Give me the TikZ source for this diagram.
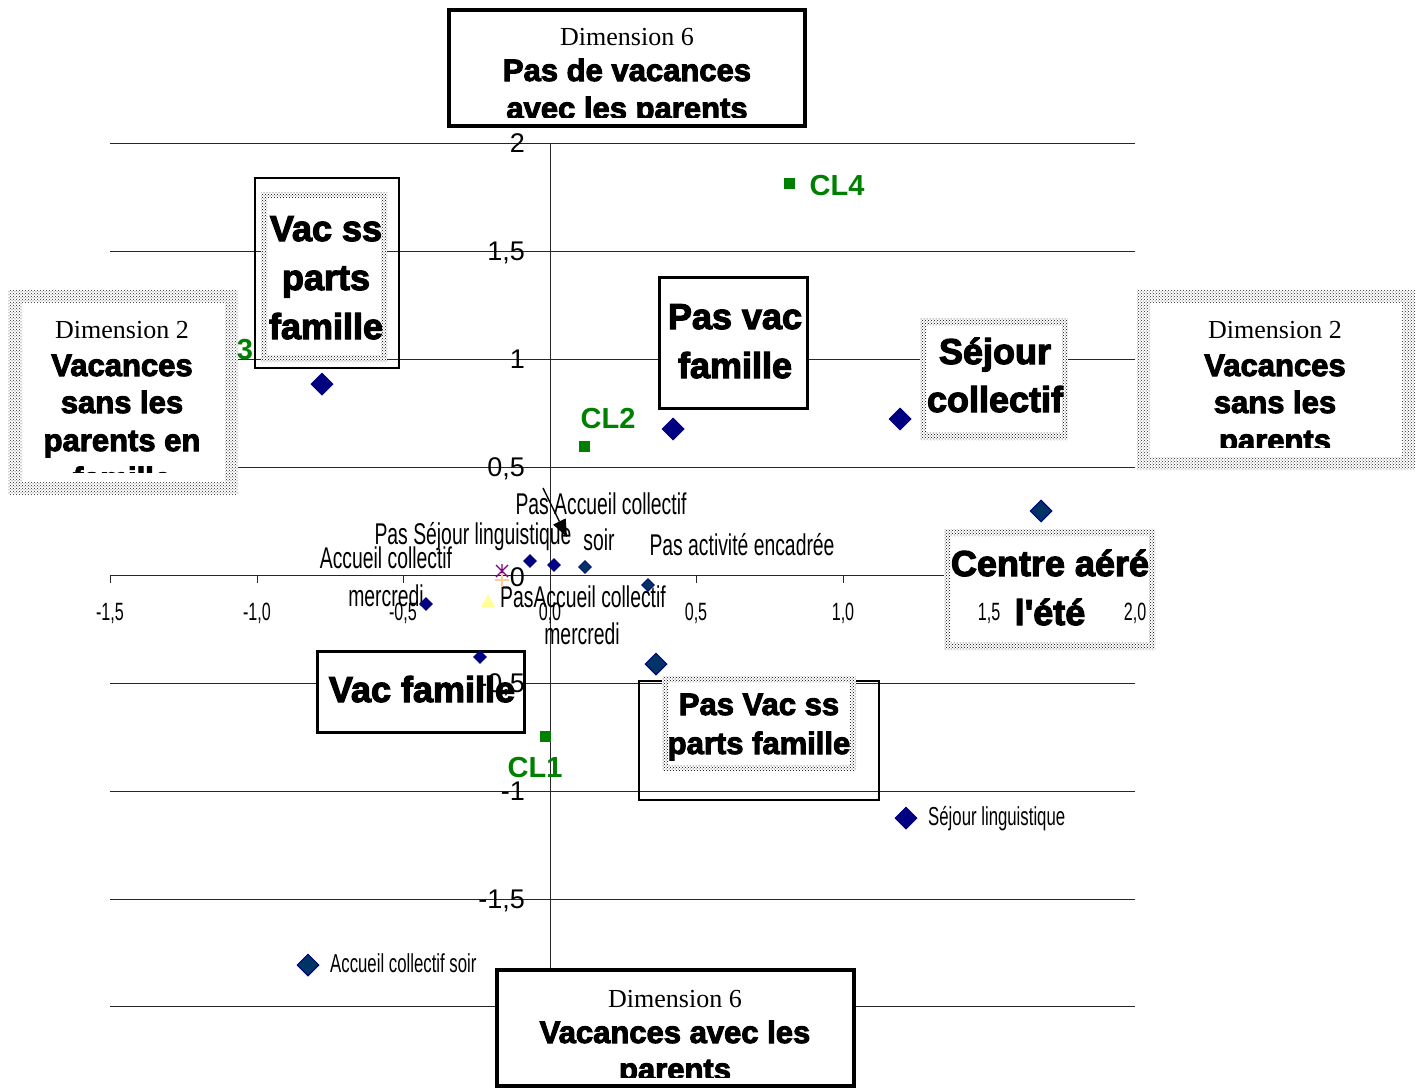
\documentclass[tikz,border=0pt]{standalone}
\usepackage{fontspec}
\usepackage{graphicx}
\usetikzlibrary{shapes.geometric,patterns,arrows.meta}
\setmainfont{Liberation Serif}
\newfontfamily\heavyfont[BoldFeatures={FakeBold=3.2}]{Liberation Sans}
\newfontfamily\sansfont{Liberation Sans}
\newfontfamily\condfont[FakeStretch=0.645]{Liberation Sans}
\definecolor{navyd}{RGB}{0,0,128}
\definecolor{navyt}{RGB}{0,51,102}
\definecolor{grn}{RGB}{0,128,0}
\definecolor{purp}{RGB}{128,0,128}
\definecolor{orng}{RGB}{255,204,153}
\definecolor{yelw}{RGB}{255,255,153}
\tikzset{
  gridl/.style={draw=black!85, line width=0.9pt},
  thickbox/.style={draw=black, line width=3.5pt, fill=white},
  thinbox/.style={draw=black, line width=1.8pt},
  dotband/.style={even odd rule, pattern=crosshatch dots, pattern color=black},
  lightband/.style={even odd rule, pattern=crosshatch dots, pattern color=black!85},
  dimser/.style={anchor=base, inner sep=0pt, font=\fontsize{26}{30}\selectfont},
  dimbold/.style={anchor=base, inner sep=0pt, font=\heavyfont\bfseries\fontsize{31}{34}\selectfont},
  bigbold/.style={anchor=base, inner sep=0pt, font=\heavyfont\bfseries\fontsize{36}{40}\selectfont},
  midbold/.style={anchor=base, inner sep=0pt, font=\heavyfont\bfseries\fontsize{31}{34}\selectfont},
  ylab/.style={anchor=base east, inner sep=0pt, font=\sansfont\fontsize{27}{30}\selectfont},
  xlab/.style={anchor=base, inner sep=0pt, font=\condfont\fontsize{25}{28}\selectfont},
  clab/.style={anchor=base, inner sep=0pt, font=\condfont\fontsize{30}{34}\selectfont},
  leglab/.style={anchor=base west, inner sep=0pt, font=\condfont\fontsize{26}{30}\selectfont},
  cllab/.style={anchor=base, inner sep=0pt, text=grn, font=\sansfont\bfseries\fontsize{29}{32}\selectfont},
  bigd/.style={diamond, draw=navyd, line width=1pt, fill=navyd, minimum width=22pt, minimum height=22pt, inner sep=0pt},
  bigdt/.style={bigd, fill=navyt},
  smalld/.style={diamond, draw=navyd, line width=0.8pt, fill=navyd, minimum width=13pt, minimum height=13pt, inner sep=0pt},
  smalldt/.style={smalld, fill=navyt},
  grsq/.style={rectangle, fill=grn, minimum width=11pt, minimum height=11pt, inner sep=0pt},
}
\begin{document}
\begin{tikzpicture}[x=1pt,y=-1pt]
\useasboundingbox (0,0) rectangle (1425,1090);
\fill[white] (0,0) rectangle (1425,1090);

% grid and axes
\foreach \g in {143,251,359,467,575,683,791,899,1006}
  \draw[gridl] (110,\g) -- (1135,\g);
\draw[gridl] (550,143) -- (550,1006);
\foreach \t in {110,257,403,550,696,843,989,1135}
  \draw[gridl] (\t,575) -- (\t,583);
\foreach \g in {143,251,359,467,575,683,791,899,1006}
  \draw[gridl] (541,\g) -- (550,\g);

% left Dimension 2 box
\fill[white] (8,290) rectangle (238,495);
\fill[lightband] (8,290) rectangle (238,495) (22,303) rectangle (225,482);
\begin{scope}
\clip (22,303) rectangle (225,472);
\node[dimser] (l2a) at (122,338) {Dimension 2};
\node[dimbold] (l2b) at (122,376) {Vacances};
\node[dimbold] (l2c) at (122,413) {sans les};
\node[dimbold] (l2d) at (122,451) {parents en};
\node[dimbold] (l2e) at (122,489) {famille};
\end{scope}

% right Dimension 2 box
\fill[white] (1137,290) rectangle (1415,470);
\fill[lightband] (1137,290) rectangle (1415,470) (1150,303) rectangle (1402,457);
\begin{scope}
\clip (1150,303) rectangle (1402,447);
\node[dimser] (r2a) at (1275,338) {Dimension 2};
\node[dimbold] (r2b) at (1275,376) {Vacances};
\node[dimbold] (r2c) at (1275,413) {sans les};
\node[dimbold] (r2d) at (1275,451) {parents};
\end{scope}

% top Dimension 6 box
\draw[thickbox] (449,10) rectangle (805,126);
\begin{scope}
\clip (452,13) rectangle (802,117);
\node[dimser] (t6a) at (627,45) {Dimension 6};
\node[dimbold] (t6b) at (627,81) {Pas de vacances};
\node[dimbold] (t6c) at (627,119) {avec les parents};
\end{scope}

% bottom Dimension 6 box
\draw[thickbox] (497,970) rectangle (854,1086);
\begin{scope}
\clip (500,973) rectangle (851,1077);
\node[dimser] (b6a) at (675,1007) {Dimension 6};
\node[dimbold] (b6b) at (675,1043) {Vacances avec les};
\node[dimbold] (b6c) at (675,1080) {parents};
\end{scope}

% Vac ss parts famille
\draw[thinbox] (255,178) rectangle (399,368);
\fill[white] (261,192) rectangle (387,362);
\fill[dotband] (261,192) rectangle (387,362) (267,198) rectangle (381,355);
\node[bigbold] (vs1) at (326,241) {Vac ss};
\node[bigbold] (vs2) at (326,290) {parts};
\node[bigbold] (vs3) at (326,339) {famille};

% Pas vac famille
\draw[thickbox] (659.5,277.5) rectangle (807.5,408.5);
\node[bigbold] (pv1) at (735,329) {Pas vac};
\node[bigbold] (pv2) at (735,378) {famille};

% Sejour collectif
\fill[white] (920,318) rectangle (1068,440);
\fill[dotband] (920,318) rectangle (1068,440) (926,325) rectangle (1062,432);
\node[bigbold] (sc1) at (995,364) {Séjour};
\node[bigbold] (sc2) at (995,412) {collectif};

% Centre aere
\fill[white] (944,529) rectangle (1155,650);
\fill[dotband] (944,529) rectangle (1155,650) (950,536) rectangle (1149,642);
\node[bigbold] (ca1) at (1050,576) {Centre aéré};
\node[bigbold] (ca2) at (1050,625) {l'été};

% Vac famille
\draw[thickbox] (317.5,651.5) rectangle (524.5,732.5);
\node[bigbold] (vf1) at (422,702) {Vac famille};

% Pas Vac ss parts famille
\draw[thinbox] (639,681) rectangle (879,800);
\fill[white] (662,676) rectangle (856,771);
\fill[dotband] (662,676) rectangle (856,771) (668,682) rectangle (850,765);
\node[midbold] (ps1) at (759,715) {Pas Vac ss};
\node[midbold] (ps2) at (759,754) {parts famille};

% axis labels
\node[ylab] (y1) at (525,152) {2};
\node[ylab] (y2) at (525,260) {1,5};
\node[ylab] (y3) at (525,368) {1};
\node[ylab] (y4) at (525,476) {0,5};
\node[ylab] (y6) at (525,692) {-0,5};
\node[ylab] (y7) at (525,800) {-1};
\node[ylab] (y8) at (525,908) {-1,5};
\node[xlab] (x1) at (110,620) {-1,5};
\node[xlab] (x2) at (257,620) {-1,0};
\node[xlab] (x3) at (403,620) {-0,5};
\node[xlab] (x4) at (550,620) {0,0};
\node[xlab] (x5) at (696,620) {0,5};
\node[xlab] (x6) at (843,620) {1,0};
\node[xlab] (x7) at (989,620) {1,5};
\node[xlab] (x8) at (1135,620) {2,0};

% point labels
\node[clab] (pa1) at (601,514) {Pas Accueil collectif};
\node[clab] (pa2) at (599,550) {soir};
\node[clab] (psl) at (473,544) {Pas Séjour linguistique};
\node[clab] (ac1) at (386,568) {Accueil collectif};
\node[clab] (ac2) at (386,606) {mercredi};
\node[clab] (pae) at (742,555) {Pas activité encadrée};
\node[clab] (pm1) at (583,607) {PasAccueil collectif};
\node[clab] (pm2) at (582,644) {mercredi};
\node[leglab] (lg1) at (330,972) {Accueil collectif soir};
\node[leglab] (lg2) at (928,825) {Séjour linguistique};

% cluster labels and markers
\node[grsq] (c4) at (789,183) {};
\node[grsq] (c2) at (584,446) {};
\node[grsq] (c1) at (545,736) {};
\node[cllab] (c4l) at (837,195) {CL4};
\node[cllab] (c2l) at (608,428) {CL2};
\node[cllab] (c1l) at (535,777) {CL1};
\node[cllab] (c3l) at (245,359) {3};

% diamonds
\node[bigd] (d1) at (322,384) {};
\node[bigd] (d2) at (673,429) {};
\node[bigd] (d3) at (900,419) {};
\node[bigd] (d4) at (906,818) {};
\node[bigdt] (d5) at (1041,511) {};
\node[bigdt] (d6) at (656,664) {};
\node[bigdt] (d7) at (308,965) {};
\node[smalld] (s1) at (530,561) {};
\node[smalld] (s2) at (554,565) {};
\node[smalld] (s3) at (426,604) {};
\node[smalld] (s4) at (480,657) {};
\node[smalldt] (s5) at (585,567) {};
\node[smalldt] (s6) at (648,585) {};

% other markers
\coordinate (ast) at (502,571);
\draw[purp, line width=1.3pt] ([shift={(-6,-6)}]ast) -- ([shift={(6,6)}]ast)
  ([shift={(6,-6)}]ast) -- ([shift={(-6,6)}]ast)
  ([shift={(0,-7)}]ast) -- ([shift={(0,7)}]ast);
\coordinate (pls) at (502,580);
\draw[orng, line width=1.5pt] ([shift={(-7,0)}]pls) -- ([shift={(7,0)}]pls)
  ([shift={(0,-7)}]pls) -- ([shift={(0,7)}]pls);
\node[regular polygon, regular polygon sides=3, fill=yelw, minimum size=17pt, inner sep=0pt] (tri) at (488,603) {};
\node[ylab] (y5) at (525,586) {0};

% arrow
\coordinate (arrS) at (543,488);
\coordinate (arrE) at (567,537);
\coordinate (arrB) at (559.4,521.5);
\coordinate (arrL) at (565.7,518.4);
\coordinate (arrR) at (553.1,524.6);
\draw[line width=1.4pt] (arrS) -- (arrB);
\fill[black] (arrE) -- (arrL) -- (arrR) -- cycle;
\end{tikzpicture}
\end{document}
